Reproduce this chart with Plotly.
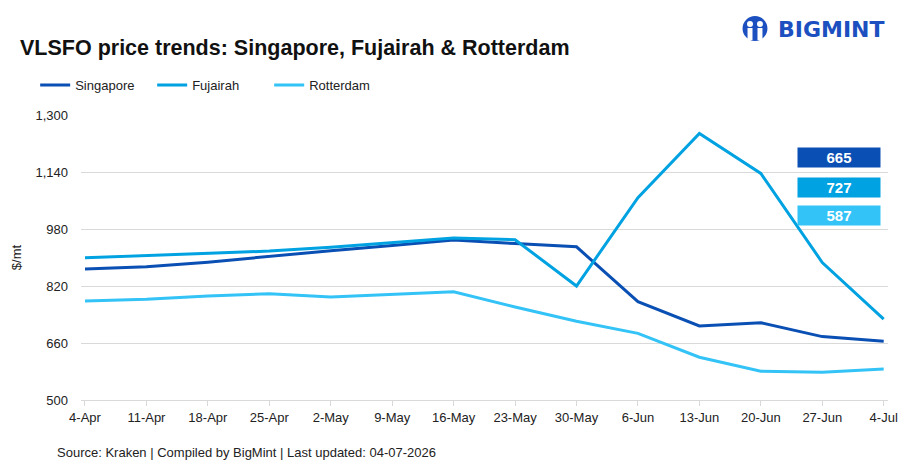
import plotly.graph_objects as go

dates = ["4-Apr", "11-Apr", "18-Apr", "25-Apr", "2-May", "9-May", "16-May",
         "23-May", "30-May", "6-Jun", "13-Jun", "20-Jun", "27-Jun", "4-Jul"]
singapore = [868, 874, 887, 904, 919, 934, 949, 939, 930, 776, 708, 717, 678, 665]
fujairah = [899, 905, 912, 918, 929, 943, 955, 950, 820, 1068, 1248, 1136, 886, 727]
rotterdam = [778, 783, 792, 798, 789, 797, 804, 761, 721, 687, 620, 581, 578, 587]
y_ticks = [500, 660, 820, 980, 1140, 1300]

names = ["Singapore", "Fujairah", "Rotterdam"]
series = [singapore, fujairah, rotterdam]
colors = ["#0A4FB3", "#00A2E1", "#33C3F6"]

W, H = 910, 473
L, R, T, B = 81, 19, 115, 73
PW, PH = W - L - R, H - T - B

def px(x):
    return (x - L) / PW

def py(y):
    return (H - B - y) / PH

FONT = "Liberation Sans, Arial, sans-serif"

fig = go.Figure()
xs = list(range(len(dates)))
for n, s, c in zip(names, series, colors):
    fig.add_trace(go.Scatter(x=xs, y=s, name=n, mode="lines",
                             line=dict(color=c, width=3)))

# value boxes for the latest values
box_y = [157.7, 187.0, 215.8]
for s, c, yy in zip(series, colors, box_y):
    fig.add_annotation(xref="paper", yref="paper", x=px(842), y=py(yy),
                       text="<b>%d</b>" % s[-1], showarrow=False,
                       bgcolor=c, width=82, height=19, borderpad=0,
                       font=dict(color="white", size=15, family=FONT),
                       xanchor="center", yanchor="middle")

# source note
fig.add_annotation(xref="paper", yref="paper", x=px(55), y=py(452),
                   text="Source: Kraken | Compiled by BigMint | Last updated: 04-07-2026",
                   showarrow=False, xanchor="left", yanchor="middle",
                   font=dict(size=13, color="#222222", family=FONT))

# logo text
fig.add_annotation(xref="paper", yref="paper", x=px(779), y=py(30),
                   text="<b>BIGMINT</b>", showarrow=False, xanchor="left",
                   yanchor="middle",
                   font=dict(size=22, color="#1C4FBF", family="DejaVu Sans, sans-serif"))
# logo icon
fig.add_shape(type="circle", xref="paper", yref="paper",
              x0=px(745), x1=px(770), y0=py(41), y1=py(16),
              fillcolor="#1C4FBF", line=dict(width=0))
for cx in [752.5, 762.5]:
    fig.add_shape(type="circle", xref="paper", yref="paper",
                  x0=px(cx - 3), x1=px(cx + 3), y0=py(27), y1=py(21),
                  fillcolor="white", line=dict(width=0))
    fig.add_shape(type="rect", xref="paper", yref="paper",
                  x0=px(cx - 2.5), x1=px(cx + 2.5), y0=py(40), y1=py(28),
                  fillcolor="white", line=dict(width=0))

fig.update_layout(
    width=W, height=H,
    margin=dict(l=L, r=R, t=T, b=B),
    paper_bgcolor="white", plot_bgcolor="white",
    font=dict(family=FONT, size=13, color="#222222"),
    title=dict(text="<b>VLSFO price trends: Singapore, Fujairah &amp; Rotterdam</b>",
               xref="container", yref="container", x=20 / W, y=1 - 47 / H,
               xanchor="left", yanchor="middle",
               font=dict(size=21.5, color="#111111", family=FONT)),
    legend=dict(orientation="h", xref="paper", yref="paper",
                x=px(35), y=py(85), xanchor="left", yanchor="middle",
                entrywidth=72, entrywidthmode="pixels",
                font=dict(size=13, color="#222222", family=FONT),
                itemwidth=30),
    showlegend=True,
)
fig.update_xaxes(
    tickmode="array", tickvals=xs, ticktext=dates,
    range=[-0.065, len(dates) - 1 + 0.07],
    showgrid=False, showline=True, linecolor="#D9D9D9", linewidth=1,
    ticks="outside", ticklen=5, tickcolor="#D9D9D9",
    tickfont=dict(size=13, color="#222222"), zeroline=False,
)
fig.update_yaxes(
    range=[500, 1300], tickvals=y_ticks, tickformat=",",
    showgrid=True, gridcolor="#D9D9D9", gridwidth=1, zeroline=False,
    showline=False, ticks="", ticklabelstandoff=12,
    tickfont=dict(size=13, color="#222222"),
    title=dict(text="$/mt", font=dict(size=13, color="#222222"), standoff=10),
)

fig.write_html("out.html")
